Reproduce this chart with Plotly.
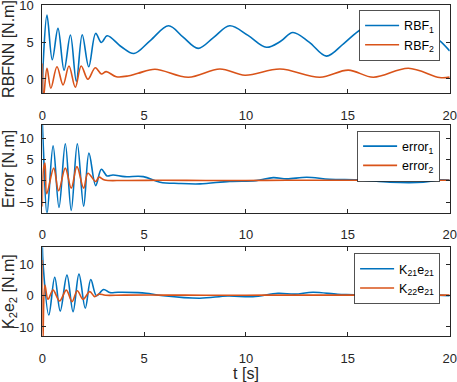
import plotly.graph_objects as go
from plotly.subplots import make_subplots

# ---------------- data ----------------
# Subplot 1: RBFNN outputs
t_rbf1 = [0, 0.05, 0.23, 0.49, 0.77, 1.07, 1.38, 1.67, 1.96, 2.28, 2.62, 2.9, 3.19, 3.88, 4.5,
          5.3, 6.2, 6.9, 7.65, 8.4, 9.2, 10.1, 11.0, 11.7, 12.3, 13.1, 13.95, 14.8, 15.65,
          16.5, 17.6, 18.7, 19.5, 20]
v_rbf1 = [-2.5, 2.5, 8.65, 2.6, 6.85, 1.2, 5.95, -0.3, 6.0, 1.66, 6.17, 4.95, 5.85, 4.37, 3.45,
          5.2, 7.2, 5.7, 4.15, 5.6, 7.2, 5.9, 4.3, 5.1, 6.3, 5.0, 3.1, 4.8, 6.7,
          7.4, 7.6, 6.6, 5.2, 3.8]

t_rbf2 = [0, 0.06, 0.23, 0.42, 0.72, 1.02, 1.31, 1.62, 1.91, 2.24, 2.6, 2.9, 3.14, 3.63, 4.2,
          4.7, 5.53, 7.17, 8.72, 9.95, 11.67, 13.63, 15.02, 16.25, 17.97, 19.5, 20]
v_rbf2 = [2.1, -2.5, 1.44, -1.26, 1.66, -0.8, 1.76, -1.12, 1.76, -0.04, 1.53, 0.68, 0.99, 0.31, 0.4,
          0.77, 1.31, 0.23, 1.35, 0.5, 1.35, 0.23, 1.2, 0.23, 1.45, 0.2, 0.25]

# Subplot 2: errors
t_err1 = [0, 0.05, 0.23, 0.53, 0.82, 1.13, 1.42, 1.72, 2.03, 2.29, 2.62, 2.9, 3.18, 3.47, 4.05,
          4.96, 5.78, 6.7, 7.74, 9.2, 10.5, 11.34, 12.0, 12.98, 14.1, 15.6, 17.07, 18.7, 19.5, 20]
v_err1 = [14, 8, -7.8, 8.2, -6.2, 8.7, -6.9, 8.7, -5.9, 6.5, -1.1, 2.74, 1.17, 1.4, 1.0,
          1.0, -0.3, -0.6, -0.7, -0.1, 0.07, 0.77, 0.47, 0.87, 0.4, 0.23, -0.3, -0.3, 0.23, 0.2]

t_err2 = [0, 0.05, 0.13, 0.22, 0.56, 0.8, 1.13, 1.42, 1.7, 2.03, 2.24, 2.62, 2.78, 3.06, 4.0,
          6, 8, 10, 12, 14, 16, 18, 20]
v_err2 = [-6, 2.5, 4.2, -3.0, 3.0, -2.3, 3.0, -1.7, 3.35, -1.7, 1.8, -0.15, 0.87, 0.2, 0.1,
          0.15, 0.1, 0.1, 0.15, 0.15, 0.15, 0.15, 0.15]

# Subplot 3: K2 e2 terms
t_k21 = [0, 0.04, 0.32, 0.61, 0.88, 1.21, 1.51, 1.8, 2.11, 2.38, 2.66, 3.01, 3.31, 3.72, 4.7,
         5.1, 5.94, 7.74, 9.1, 10.34, 11.57, 12.4, 13.29, 14.5, 15.3, 16.5, 17.5, 18.5, 19.34, 20]
v_k21 = [17, 10, -6.2, 5.9, -4.9, 6.6, -5.1, 6.9, -4.0, 5.2, 0.0, 2.0, 1.0, 1.1, 1.0,
         0.8, 0.0, -0.8, -0.1, -0.3, 0.77, 0.5, 1.1, 0.45, 0.3, -0.2, -0.4, -0.3, 0.2, 0.0]

t_k22 = [0, 0.03, 0.13, 0.28, 0.53, 0.85, 1.18, 1.46, 1.72, 2.0, 2.33, 2.57, 2.78, 3.1, 4,
         6, 8, 10, 12, 14, 16, 18, 20]
v_k22 = [11.4, -13.5, 3.4, -1.15, 1.8, -1.7, 1.8, -1.9, 1.6, -1.15, 1.3, -0.3, 0.5, 0.15, 0.2,
         0.2, 0.15, 0.15, 0.2, 0.2, 0.2, 0.2, 0.2]

x_ticks = [0, 5, 10, 15, 20]
y1_ticks = [0, 5, 10]
y2_ticks = [-5, 0, 5, 10]
y3_ticks = [-10, 0, 10]

names1 = ["RBF<sub>1</sub>", "RBF<sub>2</sub>"]
names2 = ["error<sub>1</sub>", "error<sub>2</sub>"]
names3 = ["K<sub>21</sub>e<sub>21</sub>", "K<sub>22</sub>e<sub>21</sub>"]

BLUE = "#0072BD"
ORANGE = "#D95319"
FONT = "Liberation Sans, Arial, sans-serif"
TXT = "#262626"

W, H = 457, 382
fig = make_subplots(rows=3, cols=1)

def add(t, v, name, color, row, legend):
    fig.add_trace(go.Scatter(x=t, y=v, mode="lines", name=name,
                             line=dict(color=color, width=1.6, shape="spline", smoothing=1.0),
                             legend=legend), row=row, col=1)

add(t_rbf1, v_rbf1, names1[0], BLUE, 1, "legend")
add(t_rbf2, v_rbf2, names1[1], ORANGE, 1, "legend")
add(t_err1, v_err1, names2[0], BLUE, 2, "legend2")
add(t_err2, v_err2, names2[1], ORANGE, 2, "legend2")
add(t_k21, v_k21, names3[0], BLUE, 3, "legend3")
add(t_k22, v_k22, names3[1], ORANGE, 3, "legend3")

xdom = [42.3 / W, 449.7 / W]
ydoms = [(5, 93), (125, 212.7), (247.3, 336)]
yranges = [[-1.9, 10.02], [-7.45, 13.1], [-12.9, 15.5]]
yticks = [y1_ticks, y2_ticks, y3_ticks]
ytitles = ["RBFNN [N.m]", "Error [N.m]", "K<sub>2</sub>e<sub>2</sub> [N.m]"]

axcommon = dict(showline=True, mirror="ticks", linecolor="#262626", linewidth=0.8,
                ticks="inside", ticklen=4, tickcolor="#262626", tickwidth=0.8,
                showgrid=False, zeroline=False, automargin=False,
                ticklabeloverflow="allow",
                tickfont=dict(family=FONT, size=13, color=TXT))

for i in range(3):
    top, bot = ydoms[i]
    xa = "xaxis" if i == 0 else f"xaxis{i+1}"
    ya = "yaxis" if i == 0 else f"yaxis{i+1}"
    fig.layout[xa].update(domain=xdom, range=[0, 20.001], tickvals=x_ticks, ticklabelstandoff=10,
                          **axcommon)
    fig.layout[ya].update(domain=[1 - bot / H, 1 - top / H], range=yranges[i],
                          tickvals=yticks[i], ticklabelstandoff=5,
                          title=dict(text=ytitles[i], font=dict(family=FONT, size=16, color=TXT),
                                     standoff=0),
                          **axcommon)

fig.layout["xaxis3"].update(title=dict(text="t [s]", font=dict(family=FONT, size=16, color=TXT),
                                       standoff=0))

def leg(xr, ytop):
    return dict(x=xr / W, y=1 - ytop / H, xanchor="right", yanchor="top",
                bgcolor="white", bordercolor="#262626", borderwidth=0.8,
                font=dict(family=FONT, size=12.5, color="#000000"),
                itemwidth=34)

fig.update_layout(
    width=W, height=H,
    margin=dict(l=0, r=0, t=0, b=0),
    paper_bgcolor="white", plot_bgcolor="white",
    showlegend=True,
    legend=leg(440.3, 10),
    legend2=leg(440.3, 130.7),
    legend3=leg(440.3, 253.3),
)

fig.write_html("out.html",
               config={"displayModeBar": False},
               post_script="document.body.style.margin='0';document.body.style.padding='0';")
